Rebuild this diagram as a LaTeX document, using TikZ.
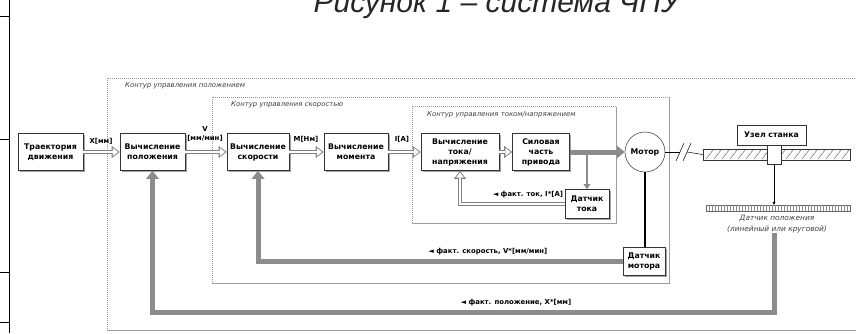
\documentclass[tikz,border=0pt]{standalone}
\usepackage{fontspec}
\setmainfont{DejaVu Sans}
\newfontfamily\titlefont{Liberation Sans}
\usetikzlibrary{arrows.meta,shadows,positioning}

\tikzset{
  block/.style={draw=black!80, fill=white, line width=0.6pt, align=center, inner sep=1pt,
    font=\bfseries\fontsize{7.8}{10}\selectfont,
    drop shadow={shadow xshift=1.5pt, shadow yshift=-1.5pt, fill=black!60, opacity=0.6}},
  plainbox/.style={draw=black!80, fill=white, line width=0.6pt, inner sep=0pt},
  loopframe/.style={draw=black!40, dash pattern=on 1pt off 1pt, line width=0.5pt, fill=white,
    drop shadow={shadow xshift=1.3pt, shadow yshift=-1.3pt, fill=black!60, opacity=0.6}},
  looplabel/.style={anchor=west, font=\itshape\fontsize{6.9}{8}\selectfont, text=black!75, inner sep=0pt},
  sig/.style={font=\bfseries\fontsize{6.9}{8.5}\selectfont, align=center, inner sep=0pt},
  hollow/.style={draw=white, line width=2.6pt, -{Triangle[length=5.2pt,width=8pt,line width=0pt]}, shorten >=1.6pt,
    preaction={draw=black!50, line width=4.6pt, -{Triangle[length=8pt,width=12pt,line width=0pt]}, shorten >=0pt}},
  fb/.style={draw=black!45, line width=5pt, -{Triangle[length=8pt,width=13pt,line width=0pt]}},
}

\begin{document}
\begin{tikzpicture}[x=1pt,y=-1pt]
\useasboundingbox (0,0) rectangle (856,333);
\clip (0,0) rectangle (856,333);

\node[anchor=base, font=\titlefont\itshape\fontsize{30}{30}\selectfont, text=black!85] (title) at (497,12) {Рисунок 1 – система ЧПУ};
\draw[line width=0.8pt] (9,0) -- (9,333);
\foreach \y in {16,139,272,322} \draw[line width=0.8pt] (0,\y) -- (9,\y);

\draw[loopframe] (107,78) rectangle (890,330);
\draw[loopframe] (212,97) rectangle (669,283);
\draw[loopframe] (412,106) rectangle (616,223);
\node[looplabel] (lposloop) at (125,86) {Контур управления положением};
\node[looplabel] (lvelloop) at (231,105) {Контур управления скоростью};
\node[looplabel] (lcurloop) at (427,115) {Контур управления током/напряжением};

\node[block, minimum width=65, minimum height=37] (traj) at (50.5,152) {Траектория\\движения};
\node[block, minimum width=65, minimum height=37] (poscalc) at (152.5,152) {Вычисление\\положения};
\node[block, minimum width=62, minimum height=37] (velcalc) at (258,152) {Вычисление\\скорости};
\node[block, minimum width=64, minimum height=37] (torqcalc) at (356,152) {Вычисление\\момента};
\node[block, minimum width=78, minimum height=37] (curcalc) at (460,152) {Вычисление\\тока/\\напряжения};
\node[block, minimum width=57, minimum height=37] (power) at (541,152) {Силовая\\часть\\привода};
\node[circle, draw=black!70, fill=white, line width=0.6pt, minimum size=40, inner sep=0pt,
  font=\bfseries\fontsize{7.8}{10}\selectfont] (motor) at (645,152) {Мотор};
\node[block, minimum width=44, minimum height=29] (cursens) at (587,204) {Датчик\\тока};
\node[block, minimum width=42, minimum height=28] (motsens) at (644,261.5) {Датчик\\мотора};

\node[plainbox, minimum width=147, minimum height=11] (rail) at (776.5,154.5) {};
\foreach \x in {706,714,...,842} \draw[black!70, line width=0.4pt] (\x,159) -- (\x+7,150);
\node[plainbox, minimum width=14, minimum height=19] (carriage) at (774,155) {};
\node[plainbox, minimum width=69, minimum height=20, font=\bfseries\fontsize{7.8}{10}\selectfont] (unit) at (771.5,135) {Узел станка};
\node[draw=black!60, minimum width=144, minimum height=6, inner sep=0pt] (ruler) at (778,208) {};
\foreach \x in {709,712,...,848} \draw[black!45, line width=0.3pt] (\x,205) -- (\x,211);
\node[font=\itshape\fontsize{7.4}{10.5}\selectfont, align=center, text=black!75, inner sep=0pt] (posname) at (777,224) {Датчик положения\\(линейный или круговой)};

\draw[hollow] (traj) -- (poscalc);
\draw[hollow] (poscalc) -- (velcalc);
\draw[hollow] (velcalc) -- (torqcalc);
\draw[hollow] (torqcalc) -- (curcalc);
\draw[hollow] (curcalc) -- (power);
\draw[fb] (power) -- (motor);
\draw[draw=black!45, line width=2.6pt, -{Triangle[length=5pt,width=7pt,line width=0pt]}] (power.east -| cursens.north) -- (cursens.north);
\draw[line width=1.8pt] (motor) -- (motor |- motsens.north);
\draw[hollow] (cursens) -| (curcalc);
\draw[fb] (motsens) -| (velcalc);
\draw[fb] (posname.south -| carriage.south) -- ++(0,80) -| (poscalc);

\draw[line width=0.5pt] (motor.east) -- (680,152);
\draw[line width=0.5pt] (676,161) -- (684,143);
\draw[line width=0.5pt] (683,161) -- (691,143);
\draw[line width=0.5pt] (687,152) -- (rail.west);
\draw[line width=0.5pt, -{Triangle[length=3pt,width=3pt]}] (carriage.south) -- (carriage.south |- ruler.north);

\node[sig] (xlab) at (101,141) {X[мм]};
\node[sig] (vlab) at (205,134) {V\\{}[мм/мин]};
\node[sig] (mlab) at (306,139) {M[Нм]};
\node[sig] (ilab) at (402,139) {I[A]};
\node[sig] (ifb) at (528,195) {◄ факт. ток, I*[A]};
\node[sig] (vfb) at (488,252) {◄ факт. скорость, V*[мм/мин]};
\node[sig] (xfb) at (516,303) {◄ факт. положение, X*[мм]};
\end{tikzpicture}
\end{document}
